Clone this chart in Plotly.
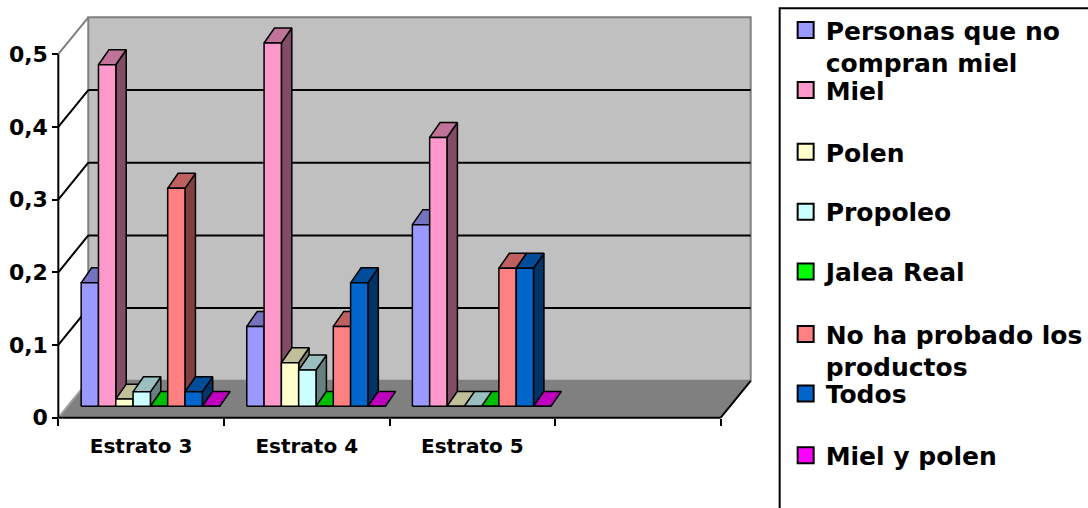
import plotly.graph_objects as go

# ---------------- data ----------------
categories = ["Estrato 3", "Estrato 4", "Estrato 5"]
slot_count = 4  # the category axis has one extra, empty slot

series_names = ["Personas que no compran miel", "Miel", "Polen", "Propoleo",
                "Jalea Real", "No ha probado los productos", "Todos", "Miel y polen"]
legend_labels = ["Personas que no<br>compran miel", "Miel", "Polen", "Propoleo",
                 "Jalea Real", "No ha probado los<br>productos", "Todos", "Miel y polen"]

personas = [0.17, 0.11, 0.25]
miel = [0.47, 0.50, 0.37]
polen = [0.01, 0.06, 0.0]
propoleo = [0.02, 0.05, 0.0]
jalea_real = [0.0, 0.0, 0.0]
no_ha_probado = [0.30, 0.11, 0.19]
todos = [0.02, 0.17, 0.19]
miel_y_polen = [0.0, 0.0, 0.0]
series_values = [personas, miel, polen, propoleo, jalea_real, no_ha_probado, todos, miel_y_polen]

face_colors = ["#9999FF", "#FF99CC", "#FFFFCC", "#CCFFFF",
               "#00FF00", "#FF8080", "#0066CC", "#FF00FF"]

y_tick_values = [0, 0.1, 0.2, 0.3, 0.4, 0.5]
y_tick_labels = ["0", "0,1", "0,2", "0,3", "0,4", "0,5"]

# ---------------- geometry / style ----------------
FONT = "DejaVu Sans"
W, H = 1088, 508
AX_L, AX_B = 58, 418          # front corner of the axes (px)
PX_PER_X = 165.75             # px per category slot
PX_PER_Y = 728.0              # px per value unit
wall_dx, wall_dy = 0.181, 0.0507   # depth of the 3D box
bar_base = 0.0155
bar_w = 0.1045
bar_start = 0.138
bar_dx, bar_dy = 0.063, 0.0206
xp, yp = 0.02, 0.006          # padding so edge lines are not clipped

x_range = [-xp, slot_count + wall_dx + xp]
y_range = [-yp, 0.5 + wall_dy + yp]
plot_left = AX_L - xp * PX_PER_X
plot_right = plot_left + (x_range[1] - x_range[0]) * PX_PER_X
plot_bottom = AX_B + yp * PX_PER_Y
plot_top = plot_bottom - (y_range[1] - y_range[0]) * PX_PER_Y


def px_to_paper_x(px):
    return (px - plot_left) / (plot_right - plot_left)


def px_to_paper_y(py):
    return (plot_bottom - py) / (plot_bottom - plot_top)


def shade(hx, f):
    hx = hx.lstrip("#")
    r, g, b = (int(hx[i:i + 2], 16) for i in (0, 2, 4))
    return "rgb(%d,%d,%d)" % (round(r * f), round(g * f), round(b * f))


fig = go.Figure()

# ---------------- bars as 3D prisms ----------------
for k, (name, vals, col) in enumerate(zip(series_names, series_values, face_colors)):
    fx, fy, sx, sy, tx, ty = [], [], [], [], [], []
    for i, v in enumerate(vals):
        L = i + bar_start + k * bar_w
        R = L + bar_w
        b = bar_base
        top = b + v
        fx += [L, R, R, L, L, None]
        fy += [b, b, top, top, b, None]
        sx += [R, R + bar_dx, R + bar_dx, R, R, None]
        sy += [b, b + bar_dy, top + bar_dy, top, b, None]
        tx += [L, R, R + bar_dx, L + bar_dx, L, None]
        ty += [top, top, top + bar_dy, top + bar_dy, top, None]
    common = dict(mode="lines", fill="toself", showlegend=False, hoverinfo="skip",
                  line=dict(color="black", width=1.5))
    fig.add_trace(go.Scatter(x=sx, y=sy, fillcolor=shade(col, 0.5), **common))
    fig.add_trace(go.Scatter(x=tx, y=ty, fillcolor=shade(col, 0.75), **common))
    fig.add_trace(go.Scatter(x=fx, y=fy, fillcolor=col, name=name, **common))

# legend entries (one legend per entry so they can be spaced like the original)
legend_y_px = [46, 90, 152, 212, 272, 350.5, 394, 456]
legend_left_px = 786
for k, (lab, col) in enumerate(zip(legend_labels, face_colors)):
    lid = "legend" if k == 0 else "legend%d" % (k + 1)
    fig.add_trace(go.Scatter(x=[None], y=[None], mode="markers", name=lab, legend=lid,
                             marker=dict(symbol="square", size=18, color=col,
                                         line=dict(color="black", width=2)),
                             hoverinfo="skip", showlegend=True))
    fig.update_layout(**{lid: dict(x=px_to_paper_x(legend_left_px),
                                   y=px_to_paper_y(legend_y_px[k]),
                                   xanchor="left", yanchor="middle", valign="top",
                                   bgcolor="rgba(0,0,0,0)", borderwidth=0,
                                   itemwidth=30,
                                   font=dict(family=FONT, size=25, color="black", weight="bold"))})

# ---------------- 3D box (walls, floor, grid) ----------------
X_END = slot_count
shapes = []


def path(pts):
    return "M " + " L ".join("%g,%g" % p for p in pts) + " Z"


shapes.append(dict(type="path", xref="x", yref="y", layer="below",
                   path=path([(wall_dx, wall_dy), (X_END + wall_dx, wall_dy),
                              (X_END + wall_dx, 0.5 + wall_dy), (wall_dx, 0.5 + wall_dy)]),
                   fillcolor="#C0C0C0", line=dict(color="#808080", width=2)))
shapes.append(dict(type="path", xref="x", yref="y", layer="below",
                   path=path([(0, 0), (X_END, 0), (X_END + wall_dx, wall_dy), (wall_dx, wall_dy)]),
                   fillcolor="#808080", line=dict(width=0)))
for v in y_tick_values[1:-1]:
    shapes.append(dict(type="line", xref="x", yref="y", layer="below",
                       x0=wall_dx, y0=v + wall_dy, x1=X_END + wall_dx, y1=v + wall_dy,
                       line=dict(color="black", width=2)))
    shapes.append(dict(type="line", xref="x", yref="y", layer="below",
                       x0=0, y0=v, x1=wall_dx, y1=v + wall_dy,
                       line=dict(color="black", width=2)))
shapes.append(dict(type="line", xref="x", yref="y", layer="below",
                   x0=0, y0=0.5, x1=wall_dx, y1=0.5 + wall_dy, line=dict(color="#808080", width=2)))
shapes.append(dict(type="line", xref="x", yref="y", layer="below",
                   x0=0, y0=0, x1=wall_dx, y1=wall_dy, line=dict(color="#A0A0A0", width=2)))
shapes.append(dict(type="line", xref="x", yref="y", layer="below",
                   x0=X_END, y0=0, x1=X_END + wall_dx, y1=wall_dy, line=dict(color="black", width=2)))
shapes.append(dict(type="line", xref="x", yref="y", layer="below",
                   x0=0, y0=0, x1=0, y1=0.5, line=dict(color="black", width=2)))
shapes.append(dict(type="line", xref="x", yref="y", layer="below",
                   x0=0, y0=0, x1=X_END, y1=0, line=dict(color="black", width=2)))
# legend frame
shapes.append(dict(type="rect", xref="paper", yref="paper", layer="above",
                   x0=px_to_paper_x(780), x1=px_to_paper_x(1100),
                   y0=px_to_paper_y(520), y1=px_to_paper_y(8),
                   fillcolor="rgba(0,0,0,0)", line=dict(color="black", width=2)))

fig.update_layout(
    width=W, height=H,
    margin=dict(l=plot_left, r=W - plot_right, t=plot_top, b=H - plot_bottom,
                pad=0, autoexpand=False),
    plot_bgcolor="white", paper_bgcolor="white",
    shapes=shapes,
    xaxis=dict(range=x_range, showgrid=False, zeroline=False, showline=False,
               anchor="free", position=px_to_paper_y(AX_B),
               tickmode="array", tickvals=[i + 0.5 for i in range(len(categories))],
               ticktext=categories, ticks="", ticklabelstandoff=14,
               tickfont=dict(family=FONT, size=20, color="black", weight="bold"),
               minor=dict(ticks="outside", tickmode="linear", tick0=0, dtick=1,
                          ticklen=7, tickwidth=2, tickcolor="black", showgrid=False)),
    yaxis=dict(range=y_range, showgrid=False, zeroline=False, showline=False,
               anchor="free", position=px_to_paper_x(AX_L),
               tickmode="array", tickvals=y_tick_values, ticktext=y_tick_labels,
               ticks="outside", ticklen=6, tickwidth=2, tickcolor="black",
               tickfont=dict(family=FONT, size=22, color="black", weight="bold")),
)

fig.write_html("out.html")
